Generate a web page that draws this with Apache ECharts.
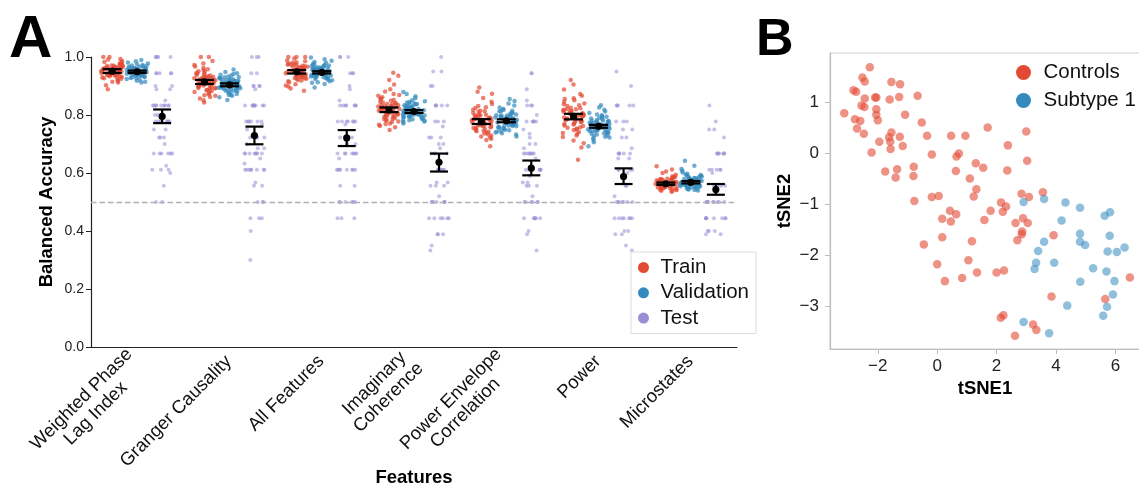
<!DOCTYPE html>
<html>
<head>
<meta charset="utf-8">
<script src="https://cdn.jsdelivr.net/npm/echarts@6/dist/echarts.min.js"></script>
<style>
  html, body { margin: 0; padding: 0; background: #ffffff; }
  #chart { width: 1139px; height: 487px; }
</style>
</head>
<body>
<div id="chart"></div>
<script>
// ---------- Panel A: balanced accuracy per feature set ----------
const features = ['Weighted Phase\nLag Index', 'Granger Causality', 'All Features',
  'Imaginary\nCoherence', 'Power Envelope\nCorrelation', 'Power', 'Microstates'];
const yTicks = [0, 0.2, 0.4, 0.6, 0.8, 1.0];
const chanceLevel = 0.5;

// Per-split accuracies (one array per feature set)
const trainWPLI = [0.951,0.962,0.938,0.972,0.931,0.948,0.983,0.921,0.958,0.945,0.936,0.969,0.991,0.927,0.954,0.963,0.912,0.949,0.941,0.978,0.957,0.933,0.952,0.974,0.943,0.903,0.961,0.947,0.968,0.929,0.939,0.959,1.0,0.955,0.918,0.964,0.944,0.981,0.950,0.934,0.971,0.889,0.953,0.966,0.940,0.993,0.946,0.925,0.960,0.937,0.976,0.956,1.0,0.915,0.965,0.942,0.958,0.970,0.932,0.962,0.986,0.948,0.954,0.939,0.967];
const trainGranger = [0.914,0.932,0.897,0.951,0.883,0.918,0.972,0.866,0.925,0.905,0.891,0.945,1.0,0.874,0.920,0.938,0.851,0.911,0.902,0.962,0.929,0.887,0.916,0.955,0.899,0.843,0.934,0.908,0.948,0.879,0.894,0.927,0.986,0.921,0.862,0.936,0.903,0.967,0.913,0.885,0.942,0.857,0.919,0.931,0.896,0.978,0.907,0.871,0.926,0.892,0.958,0.923,1.0,0.868,0.935,0.901,0.917,0.944,0.881,0.928,0.909,0.893,0.912];
const trainAll = [0.949,0.963,0.934,0.975,0.924,0.946,0.988,0.913,0.958,0.941,0.930,0.970,1.0,0.919,0.952,0.965,0.898,0.947,0.937,0.982,0.956,0.927,0.951,0.978,0.939,0.884,0.961,0.944,0.972,0.921,0.933,0.959,1.0,0.954,0.906,0.966,0.940,0.985,0.948,0.928,0.974,0.891,0.953,0.968,0.936,0.995,0.943,0.916,0.960,0.932,0.980,0.955,1.0,0.902,0.967,0.938,0.957,0.973,0.925,0.962,0.950,0.945];
const trainImCoh = [0.818,0.838,0.799,0.861,0.784,0.822,0.889,0.771,0.831,0.809,0.793,0.852,0.921,0.778,0.826,0.845,0.758,0.815,0.804,0.872,0.834,0.789,0.820,0.866,0.801,0.748,0.841,0.812,0.857,0.781,0.796,0.829,0.946,0.824,0.766,0.843,0.806,0.881,0.817,0.787,0.849,0.762,0.823,0.836,0.798,0.905,0.811,0.776,0.833,0.794,0.869,0.827,0.935,0.769,0.840,0.803,0.821,0.854,0.785,0.830,0.814,0.808];
const trainPEC = [0.777,0.796,0.758,0.818,0.744,0.781,0.846,0.729,0.789,0.768,0.752,0.811,0.873,0.736,0.785,0.803,0.714,0.774,0.763,0.831,0.792,0.748,0.779,0.824,0.760,0.692,0.799,0.771,0.815,0.740,0.755,0.787,0.895,0.783,0.722,0.801,0.765,0.838,0.776,0.746,0.807,0.718,0.782,0.794,0.757,0.859,0.770,0.733,0.791,0.753,0.827,0.786,0.880,0.726,0.798,0.762,0.780,0.813,0.742,0.788,0.773,0.766];
const trainPower = [0.795,0.818,0.771,0.846,0.753,0.799,0.872,0.735,0.808,0.784,0.762,0.834,0.905,0.741,0.803,0.825,0.712,0.791,0.778,0.858,0.814,0.758,0.797,0.851,0.775,0.688,0.821,0.788,0.840,0.748,0.767,0.806,0.921,0.801,0.724,0.823,0.781,0.866,0.793,0.756,0.831,0.703,0.800,0.816,0.769,0.888,0.786,0.738,0.811,0.764,0.855,0.804,0.646,0.729,0.820,0.776,0.798,0.837,0.751,0.810,0.790,0.782];
const trainMicro = [0.563,0.570,0.556,0.580,0.549,0.565,0.594,0.543,0.574,0.559,0.552,0.585,0.612,0.546,0.567,0.577,0.538,0.561,0.555,0.589,0.572,0.550,0.564,0.582,0.557,0.535,0.575,0.560,0.579,0.547,0.553,0.569,0.623,0.566,0.541,0.576,0.558,0.600,0.562,0.551,0.583,0.539,0.568,0.573,0.554,0.605,0.559,0.545,0.571,0.553,0.587,0.566,0.561,0.542,0.574,0.556,0.564,0.578,0.548,0.569];

const valWPLI = [0.949,0.955,0.941,0.962,0.936,0.951,0.972,0.928,0.958,0.945,0.939,0.966,0.985,0.931,0.953,0.960,0.918,0.947,0.943,0.975,0.957,0.934,0.950,0.968,0.944,0.912,0.961,0.946,0.964,0.930,0.940,0.956,0.990,0.952,0.924,0.959,0.942,0.978,0.948,0.935,0.969,0.921,0.954,0.963,0.938,0.981,0.947,0.927,0.957,0.937,0.971,0.953,0.944,0.915,0.960,0.942,0.955,0.966,0.933,0.951];
const valGranger = [0.904,0.915,0.893,0.928,0.884,0.907,0.941,0.872,0.919,0.898,0.889,0.933,0.957,0.878,0.910,0.922,0.861,0.902,0.896,0.936,0.917,0.886,0.905,0.930,0.895,0.852,0.920,0.900,0.926,0.881,0.891,0.913,0.948,0.909,0.869,0.921,0.897,0.939,0.903,0.887,0.931,0.866,0.908,0.918,0.892,0.944,0.901,0.876,0.914,0.890,0.927,0.911,0.899,0.870,0.916,0.894,0.906,0.924,0.883,0.912];
const valAll = [0.947,0.956,0.938,0.966,0.931,0.949,0.977,0.922,0.959,0.943,0.935,0.969,0.992,0.926,0.952,0.962,0.911,0.946,0.940,0.980,0.957,0.929,0.950,0.972,0.941,0.895,0.961,0.944,0.967,0.924,0.936,0.955,0.998,0.951,0.916,0.960,0.939,0.983,0.945,0.930,0.971,0.907,0.953,0.964,0.934,0.987,0.942,0.920,0.958,0.933,0.975,0.954,0.948,0.913,0.963,0.937,0.956,0.968,0.927,0.950];
const valImCoh = [0.812,0.823,0.801,0.838,0.792,0.815,0.851,0.783,0.828,0.806,0.797,0.843,0.872,0.786,0.818,0.832,0.776,0.810,0.803,0.847,0.826,0.794,0.813,0.840,0.804,0.771,0.830,0.808,0.836,0.789,0.799,0.821,0.879,0.816,0.780,0.829,0.802,0.858,0.811,0.795,0.841,0.778,0.817,0.825,0.798,0.865,0.807,0.785,0.822,0.796,0.845,0.819,0.809,0.782,0.827,0.800,0.814,0.834,0.791,0.820];
const valPEC = [0.780,0.793,0.767,0.809,0.756,0.783,0.826,0.744,0.798,0.772,0.761,0.815,0.848,0.749,0.787,0.802,0.733,0.777,0.769,0.821,0.796,0.758,0.781,0.812,0.770,0.726,0.800,0.775,0.807,0.752,0.763,0.791,0.855,0.785,0.740,0.799,0.766,0.833,0.779,0.759,0.813,0.737,0.784,0.795,0.764,0.840,0.774,0.747,0.792,0.762,0.818,0.788,0.776,0.742,0.797,0.768,0.782,0.805,0.754,0.789];
const valPower = [0.761,0.774,0.748,0.790,0.737,0.764,0.807,0.725,0.779,0.753,0.742,0.796,0.826,0.730,0.768,0.783,0.714,0.758,0.750,0.802,0.777,0.739,0.762,0.793,0.751,0.692,0.781,0.756,0.788,0.733,0.744,0.772,0.834,0.766,0.720,0.780,0.747,0.812,0.760,0.740,0.794,0.706,0.765,0.776,0.745,0.818,0.755,0.728,0.773,0.743,0.799,0.769,0.757,0.722,0.778,0.749,0.763,0.786,0.735,0.770];
const valMicro = [0.568,0.576,0.560,0.588,0.553,0.571,0.602,0.546,0.580,0.563,0.556,0.593,0.625,0.549,0.573,0.584,0.541,0.566,0.559,0.597,0.578,0.554,0.569,0.590,0.561,0.540,0.582,0.565,0.586,0.551,0.557,0.575,0.642,0.572,0.545,0.583,0.562,0.608,0.567,0.555,0.591,0.543,0.574,0.579,0.558,0.614,0.564,0.548,0.577,0.557,0.595,0.570,0.566,0.547,0.581,0.560,0.569,0.587,0.552,0.574];

const testWPLI = [1.0,1.0,1.0,1.0,1.0,0.944,0.944,0.944,0.944,0.944,0.9,0.9,0.889,0.889,0.85,0.833,0.833,0.833,0.833,0.833,0.833,0.833,0.833,0.833,0.8,0.8,0.778,0.778,0.778,0.778,0.778,0.778,0.778,0.778,0.75,0.75,0.722,0.722,0.722,0.7,0.667,0.667,0.667,0.667,0.667,0.667,0.625,0.611,0.611,0.611,0.6,0.556,0.5,0.5];
const testGranger = [1.0,1.0,1.0,0.944,0.944,0.9,0.9,0.9,0.9,0.889,0.833,0.833,0.833,0.833,0.833,0.833,0.833,0.833,0.833,0.778,0.778,0.778,0.778,0.778,0.778,0.767,0.75,0.722,0.722,0.722,0.722,0.7,0.685,0.685,0.667,0.667,0.667,0.667,0.667,0.667,0.667,0.667,0.65,0.633,0.611,0.611,0.611,0.611,0.611,0.611,0.611,0.611,0.567,0.556,0.556,0.5,0.5,0.5,0.444,0.444,0.444,0.4,0.3];
const testAll = [1.0,1.0,1.0,0.944,0.944,0.944,0.9,0.889,0.85,0.833,0.833,0.833,0.833,0.833,0.833,0.833,0.778,0.778,0.778,0.778,0.778,0.778,0.778,0.767,0.722,0.722,0.722,0.722,0.7,0.7,0.667,0.667,0.667,0.667,0.667,0.667,0.667,0.65,0.611,0.611,0.611,0.611,0.611,0.611,0.611,0.611,0.556,0.556,0.5,0.5,0.5,0.5,0.5,0.5,0.444,0.444,0.444];
const testImCoh = [1.0,0.95,0.95,0.9,0.9,0.833,0.833,0.833,0.833,0.833,0.778,0.778,0.778,0.76,0.722,0.722,0.722,0.7,0.7,0.685,0.667,0.667,0.667,0.667,0.611,0.611,0.611,0.611,0.611,0.611,0.567,0.567,0.556,0.556,0.556,0.52,0.5,0.5,0.5,0.5,0.5,0.5,0.5,0.444,0.444,0.444,0.444,0.444,0.444,0.389,0.389,0.389,0.35,0.333];
const testPEC = [0.944,0.944,0.889,0.85,0.833,0.833,0.833,0.8,0.778,0.778,0.778,0.778,0.778,0.75,0.735,0.722,0.7,0.7,0.685,0.667,0.667,0.667,0.667,0.667,0.667,0.667,0.65,0.611,0.611,0.611,0.611,0.611,0.611,0.611,0.59,0.567,0.567,0.556,0.556,0.556,0.52,0.5,0.5,0.5,0.5,0.5,0.5,0.444,0.444,0.444,0.444,0.444,0.444,0.4,0.389,0.333];
const testPower = [0.95,0.9,0.833,0.833,0.833,0.833,0.833,0.778,0.778,0.778,0.75,0.75,0.722,0.722,0.685,0.667,0.667,0.667,0.667,0.667,0.65,0.65,0.611,0.611,0.611,0.611,0.6,0.556,0.556,0.52,0.5,0.5,0.5,0.5,0.5,0.5,0.5,0.444,0.444,0.444,0.444,0.444,0.444,0.444,0.4,0.4,0.389,0.389,0.35,0.333];
const testMicro = [0.833,0.778,0.75,0.75,0.722,0.667,0.667,0.667,0.667,0.667,0.667,0.667,0.611,0.611,0.611,0.611,0.611,0.6,0.556,0.556,0.556,0.556,0.5,0.5,0.5,0.5,0.5,0.5,0.5,0.5,0.5,0.444,0.444,0.444,0.444,0.444,0.444,0.444,0.444,0.4,0.4,0.4,0.389,0.389];

// Means and 95% confidence bounds per feature set
const trainMean = [0.951, 0.914, 0.949, 0.818, 0.777, 0.795, 0.563];
const trainLow  = [0.945, 0.907, 0.943, 0.810, 0.769, 0.785, 0.559];
const trainHigh = [0.958, 0.921, 0.955, 0.826, 0.786, 0.804, 0.567];
const valMean = [0.949, 0.904, 0.947, 0.812, 0.780, 0.761, 0.568];
const valLow  = [0.945, 0.899, 0.943, 0.807, 0.775, 0.756, 0.564];
const valHigh = [0.953, 0.909, 0.951, 0.817, 0.785, 0.766, 0.572];
const testMean = [0.795, 0.729, 0.721, 0.637, 0.617, 0.588, 0.543];
const testLow  = [0.772, 0.699, 0.693, 0.605, 0.592, 0.562, 0.525];
const testHigh = [0.819, 0.760, 0.748, 0.667, 0.643, 0.616, 0.562];

// ---------- Panel B: tSNE embedding ----------
const controlsX = [-2.27,-2.52,-2.44,-2.82,-2.73,-2.44,-2.09,-2.05,-2.55,-2.45,-2.05,-2.05,-2.00,-3.13,-2.77,-2.59,-2.70,-2.47,-1.54,-1.25,-1.60,-1.28,-0.66,-1.08,-0.52,-1.54,-1.62,-1.26,-1.58,-1.95,-1.57,-1.16,-2.21,-1.75,-1.35,-1.40,-0.79,-0.80,-0.34,-0.18,0.47,0.95,1.70,0.73,0.65,0.63,1.30,1.55,1.10,1.32,1.23,2.38,3.00,3.03,2.36,-0.77,-0.18,0.05,0.43,0.64,0.17,0.46,0.17,1.17,1.80,1.59,2.15,2.21,2.32,2.84,3.09,3.56,2.89,3.05,2.64,2.86,2.85,2.70,3.92,-0.45,0.00,1.05,0.26,0.84,1.34,2.00,2.25,6.49,3.85,5.66,2.14,2.23,3.23,3.34,2.62];
const controlsY = [1.68,1.48,1.40,1.23,1.20,1.07,1.09,1.09,0.93,0.90,0.86,0.75,0.64,0.78,0.66,0.63,0.48,0.38,1.39,1.35,1.05,1.10,1.12,0.75,0.60,0.40,0.31,0.32,0.22,0.22,0.08,0.14,0.01,-0.36,-0.32,-0.48,-0.27,-0.45,0.34,-0.03,0.34,0.34,0.50,-0.01,-0.07,-0.35,-0.20,-0.29,-0.50,-0.71,-0.85,0.15,0.42,-0.15,-0.34,-0.94,-0.86,-0.84,-1.13,-1.20,-1.29,-1.34,-1.65,-1.73,-1.13,-1.31,-0.97,-1.15,-1.05,-0.80,-0.86,-0.77,-1.28,-1.37,-1.37,-1.54,-1.59,-1.71,-1.61,-1.79,-2.18,-2.10,-2.51,-2.45,-2.34,-2.34,-2.30,-2.44,-2.81,-2.86,-3.23,-3.18,-3.36,-3.47,-3.58];
const subtypeX = [2.91,3.60,4.32,4.81,5.64,5.82,4.19,4.81,5.81,3.60,4.81,4.98,6.31,3.40,5.74,6.05,3.33,3.28,3.94,5.25,5.70,4.82,5.97,5.92,4.38,5.72,5.59,2.91,3.77];
const subtypeY = [-0.96,-0.90,-0.97,-1.07,-1.23,-1.16,-1.32,-1.58,-1.62,-1.74,-1.74,-1.80,-1.85,-1.92,-1.93,-1.94,-2.15,-2.27,-2.15,-2.26,-2.32,-2.52,-2.51,-2.77,-2.99,-3.01,-3.19,-3.31,-3.53];
const tsneXTicks = [-2, 0, 2, 4, 6];
const tsneYTicks = [-3, -2, -1, 0, 1];

// ---------- assemble ----------
const colors = { train: '#E24A33', validation: '#348ABD', test: '#988ED5' };
const trainGroups = [trainWPLI, trainGranger, trainAll, trainImCoh, trainPEC, trainPower, trainMicro];
const valGroups = [valWPLI, valGranger, valAll, valImCoh, valPEC, valPower, valMicro];
const testGroups = [testWPLI, testGranger, testAll, testImCoh, testPEC, testPower, testMicro];

function toPoints(groups) {
  const out = [];
  groups.forEach((vals, i) => vals.forEach(v => out.push([i, v])));
  return out;
}
function toBars(mean, low, high) {
  return mean.map((m, i) => [i, low[i], high[i], m]);
}
const minusFmt = v => (v < 0 ? '\u2212' : '') + Math.abs(v);

const FONT = 'Liberation Sans';
const labelSize = 18.5;
const measureCtx = document.createElement('canvas').getContext('2d');
measureCtx.font = labelSize + 'px "' + FONT + '"';
const rich = {};
features.forEach((f, k) => {
  const w = Math.max(...f.split('\n').map(s => measureCtx.measureText(s).width));
  rich['f' + k] = { width: Math.ceil(w) + 1, align: 'center', fontSize: labelSize,
    lineHeight: 20, fontFamily: FONT, color: '#111' };
});

// three side-by-side sub-grids (train / validation / test) sharing one y scale
const plotTop = 57, plotBottom = 140, plotLeft = 91, plotRight = 402, shift = 25;

function errorBarRenderer(capHalf) {
  return function (params, api) {
    const i = api.value(0);
    const pLo = api.coord([i, api.value(1)]);
    const pHi = api.coord([i, api.value(2)]);
    const pM = api.coord([i, api.value(3)]);
    const st = { stroke: '#000', lineWidth: 2.2 };
    return {
      type: 'group',
      children: [
        { type: 'line', shape: { x1: pLo[0], y1: pLo[1], x2: pHi[0], y2: pHi[1] }, style: st },
        { type: 'line', shape: { x1: pLo[0] - capHalf, y1: pLo[1], x2: pLo[0] + capHalf, y2: pLo[1] }, style: st },
        { type: 'line', shape: { x1: pHi[0] - capHalf, y1: pHi[1], x2: pHi[0] + capHalf, y2: pHi[1] }, style: st },
        { type: 'circle', shape: { cx: pM[0], cy: pM[1], r: 3.6 }, style: { fill: '#000' } }
      ]
    };
  };
}

const hiddenCat = (jit) => ({ type: 'category', data: features, show: false, jitter: jit, jitterOverlap: true });
const hiddenY = (g) => ({ type: 'value', gridIndex: g, min: 0, max: 1, show: false });
const fixedGrid = (g) => Object.assign({ outerBoundsMode: 'none', containLabel: false }, g);

const option = {
  animation: false,
  textStyle: { fontFamily: FONT },
  title: [
    { text: 'A', left: 4, top: 5, textStyle: { fontSize: 60, fontWeight: 'bold', color: '#000', fontFamily: FONT } },
    { text: 'B', left: 751, top: 10, textStyle: { fontSize: 52, fontWeight: 'bold', color: '#000', fontFamily: FONT } }
  ],
  legend: [
    {
      data: [
        { name: 'Train', itemStyle: { opacity: 1 } },
        { name: 'Validation', itemStyle: { opacity: 1 } },
        { name: 'Test', itemStyle: { opacity: 1 } }
      ],
      orient: 'vertical', left: 631, top: 252,
      backgroundColor: '#fff', borderColor: '#dcdcdc', borderWidth: 1, borderRadius: 0,
      padding: [5, 7, 5, 7], itemGap: 4.3, itemWidth: 24, itemHeight: 11, icon: 'circle',
      textStyle: { fontSize: 20.5, lineHeight: 21, color: '#111', fontFamily: FONT }
    },
    {
      data: [
        { name: 'Controls', itemStyle: { opacity: 1 } },
        { name: 'Subtype 1', itemStyle: { opacity: 1 } }
      ],
      orient: 'vertical', left: 1016, top: 62, padding: 0,
      itemGap: 7, itemWidth: 30, itemHeight: 15, icon: 'circle',
      textStyle: { fontSize: 20.5, lineHeight: 21, color: '#111', fontFamily: FONT }
    }
  ],
  grid: [
    fixedGrid({ left: plotLeft, right: plotRight, top: plotTop, bottom: plotBottom }),
    fixedGrid({ left: plotLeft - shift, right: plotRight + shift, top: plotTop, bottom: plotBottom }),
    fixedGrid({ left: plotLeft + shift, right: plotRight - shift, top: plotTop, bottom: plotBottom }),
    fixedGrid({ left: 830, right: -1, top: 53, bottom: 138, show: true, borderColor: '#d0d0d0', borderWidth: 1 })
  ],
  xAxis: [
    {
      type: 'category', gridIndex: 0, data: features, jitter: 22, jitterOverlap: true,
      name: 'Features', nameLocation: 'middle', nameGap: 121, nameMoveOverlap: false,
      nameTextStyle: { fontSize: 18.5, fontWeight: 'bold', color: '#000', fontFamily: FONT },
      axisLine: { lineStyle: { color: '#222', width: 1.2 } },
      axisTick: { alignWithLabel: true, length: 5, lineStyle: { color: '#222' } },
      axisLabel: {
        rotate: 45, interval: 0, margin: 11, rich: rich,
        formatter: (value, idx) => value.split('\n').map(s => '{f' + idx + '|' + s + '}').join('\n')
      }
    },
    Object.assign(hiddenCat(22), { gridIndex: 1 }),
    Object.assign(hiddenCat(20), { gridIndex: 2 }),
    {
      type: 'value', gridIndex: 3, min: -3.61, max: 6.83,
      name: 'tSNE1', nameLocation: 'middle', nameGap: 30, nameMoveOverlap: false,
      nameTextStyle: { fontSize: 18.5, fontWeight: 'bold', color: '#000', fontFamily: FONT },
      axisLine: { onZero: false, lineStyle: { color: '#bdbdbd', width: 1.2 } },
      axisTick: { show: true, length: 5, lineStyle: { color: '#bdbdbd' }, customValues: tsneXTicks },
      axisLabel: { fontSize: 17, color: '#222', margin: 9, customValues: tsneXTicks, formatter: minusFmt },
      splitLine: { show: false }
    }
  ],
  yAxis: [
    {
      type: 'value', gridIndex: 0, min: 0, max: 1, interval: 0.2,
      name: 'Balanced Accuracy', nameLocation: 'middle', nameGap: 35, nameMoveOverlap: false,
      nameTextStyle: { fontSize: 18.5, fontWeight: 'bold', color: '#000', fontFamily: FONT },
      axisLine: { show: true, lineStyle: { color: '#222', width: 1.2 } },
      axisTick: { show: true, length: 5, lineStyle: { color: '#222' } },
      axisLabel: { fontSize: 14, color: '#222', margin: 7, formatter: v => v.toFixed(1) },
      splitLine: { show: false }
    },
    hiddenY(1),
    hiddenY(2),
    {
      type: 'value', gridIndex: 3, min: -3.84, max: 1.96,
      name: 'tSNE2', nameLocation: 'middle', nameGap: 36, nameMoveOverlap: false,
      nameTextStyle: { fontSize: 18.5, fontWeight: 'bold', color: '#000', fontFamily: FONT },
      axisLine: { show: true, onZero: false, lineStyle: { color: '#bdbdbd', width: 1.2 } },
      axisTick: { show: true, length: 5, lineStyle: { color: '#bdbdbd' }, customValues: tsneYTicks },
      axisLabel: { fontSize: 17, color: '#222', margin: 11, customValues: tsneYTicks, formatter: minusFmt },
      splitLine: { show: false }
    }
  ],
  series: [
    {
      name: 'Train', type: 'scatter', xAxisIndex: 1, yAxisIndex: 1,
      data: toPoints(trainGroups), symbolSize: 4.5,
      itemStyle: { color: colors.train, opacity: 0.7 }
    },
    {
      name: 'Validation', type: 'scatter', xAxisIndex: 0, yAxisIndex: 0,
      data: toPoints(valGroups), symbolSize: 4.5,
      itemStyle: { color: colors.validation, opacity: 0.7 },
      markLine: {
        silent: true, symbol: 'none', label: { show: false },
        lineStyle: { type: [5.5, 3], color: '#b0b0b0', width: 1.3 },
        data: [{ yAxis: chanceLevel }]
      }
    },
    {
      name: 'Test', type: 'scatter', xAxisIndex: 2, yAxisIndex: 2,
      data: toPoints(testGroups), symbolSize: 4,
      itemStyle: { color: colors.test, opacity: 0.55 }
    },
    {
      type: 'custom', xAxisIndex: 1, yAxisIndex: 1, z: 10,
      data: toBars(trainMean, trainLow, trainHigh), encode: { x: 0, y: [1, 2, 3] },
      renderItem: errorBarRenderer(9.5)
    },
    {
      type: 'custom', xAxisIndex: 0, yAxisIndex: 0, z: 10,
      data: toBars(valMean, valLow, valHigh), encode: { x: 0, y: [1, 2, 3] },
      renderItem: errorBarRenderer(9.5)
    },
    {
      type: 'custom', xAxisIndex: 2, yAxisIndex: 2, z: 10,
      data: toBars(testMean, testLow, testHigh), encode: { x: 0, y: [1, 2, 3] },
      renderItem: errorBarRenderer(9)
    },
    {
      name: 'Controls', type: 'scatter', xAxisIndex: 3, yAxisIndex: 3,
      data: controlsX.map((x, i) => [x, controlsY[i]]), symbolSize: 8.5,
      itemStyle: { color: colors.train, opacity: 0.6 }
    },
    {
      name: 'Subtype 1', type: 'scatter', xAxisIndex: 3, yAxisIndex: 3,
      data: subtypeX.map((x, i) => [x, subtypeY[i]]), symbolSize: 8.5,
      itemStyle: { color: colors.validation, opacity: 0.55 }
    }
  ]
};

const chart = echarts.init(document.getElementById('chart'));
chart.setOption(option);
</script>
</body>
</html>
